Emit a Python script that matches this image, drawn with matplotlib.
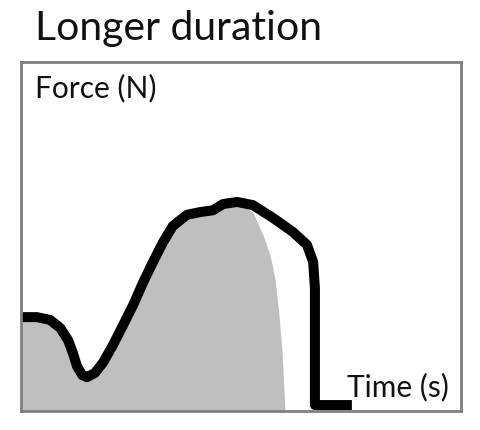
import matplotlib
matplotlib.use("Agg")
import matplotlib.pyplot as plt

# force trace (arbitrary units, time 0-10 across the box, force 0-10 up the box)
time = [0.00, 0.36, 0.66, 0.89, 1.07, 1.18, 1.27, 1.39, 1.50, 1.68, 1.86, 2.09,
        2.32, 2.55, 2.77, 3.00, 3.23, 3.45, 3.77, 4.07, 4.36, 4.59, 4.91, 5.27,
        5.73, 6.18, 6.50, 6.64, 6.68, 6.68, 7.52]
force = [2.69, 2.69, 2.61, 2.38, 2.03, 1.66, 1.29, 1.03, 0.97, 1.09, 1.38, 1.89,
         2.46, 3.04, 3.67, 4.27, 4.84, 5.30, 5.62, 5.70, 5.75, 5.93, 5.99, 5.90,
         5.53, 5.13, 4.76, 4.27, 3.52, 0.17, 0.17]

# shaded area: follows the trace up to the peak, then its own falling edge
shade_time = [0.00, 0.36, 0.66, 0.89, 1.07, 1.18, 1.27, 1.39, 1.50, 1.68, 1.86, 2.09,
              2.32, 2.55, 2.77, 3.00, 3.23, 3.45, 3.77, 4.07, 4.36, 4.59, 4.91,
              5.27, 5.50, 5.66, 5.77, 5.86, 5.93, 6.00]
shade_force = [2.69, 2.69, 2.61, 2.38, 2.03, 1.66, 1.29, 1.03, 0.97, 1.09, 1.38, 1.89,
               2.46, 3.04, 3.67, 4.27, 4.84, 5.30, 5.62, 5.70, 5.75, 5.93, 5.99,
               5.70, 5.04, 4.47, 3.81, 2.80, 1.75, 0.00]

fig = plt.figure(figsize=(4.8, 4.3), dpi=100)
ax = fig.add_axes([21 / 480, (430 - 411) / 430, 440 / 480, 349 / 430])

ax.fill_between(shade_time, shade_force, 0, color="#bfbfbf", linewidth=0)
ax.plot(time, force, color="black", linewidth=7.2,
        solid_joinstyle="round", solid_capstyle="butt")

ax.set_xlim(0, 10)
ax.set_ylim(0, 10)
ax.set_xticks([])
ax.set_yticks([])
for s in ax.spines.values():
    s.set_color("#808080")
    s.set_linewidth(2.0)

font = "Lato"
fig.text(35 / 480, 1 - 40 / 430, "Longer duration", fontsize=29.5,
         family=font, va="baseline", ha="left", color="#111111")
fig.text(35 / 480, 1 - 97 / 430, "Force (N)", fontsize=21.5,
         family=font, va="baseline", ha="left", color="#111111")
fig.text(347 / 480, 1 - 396 / 430, "Time (s)", fontsize=21.5,
         family=font, va="baseline", ha="left", color="#111111")

fig.savefig("out.png", dpi=100)
